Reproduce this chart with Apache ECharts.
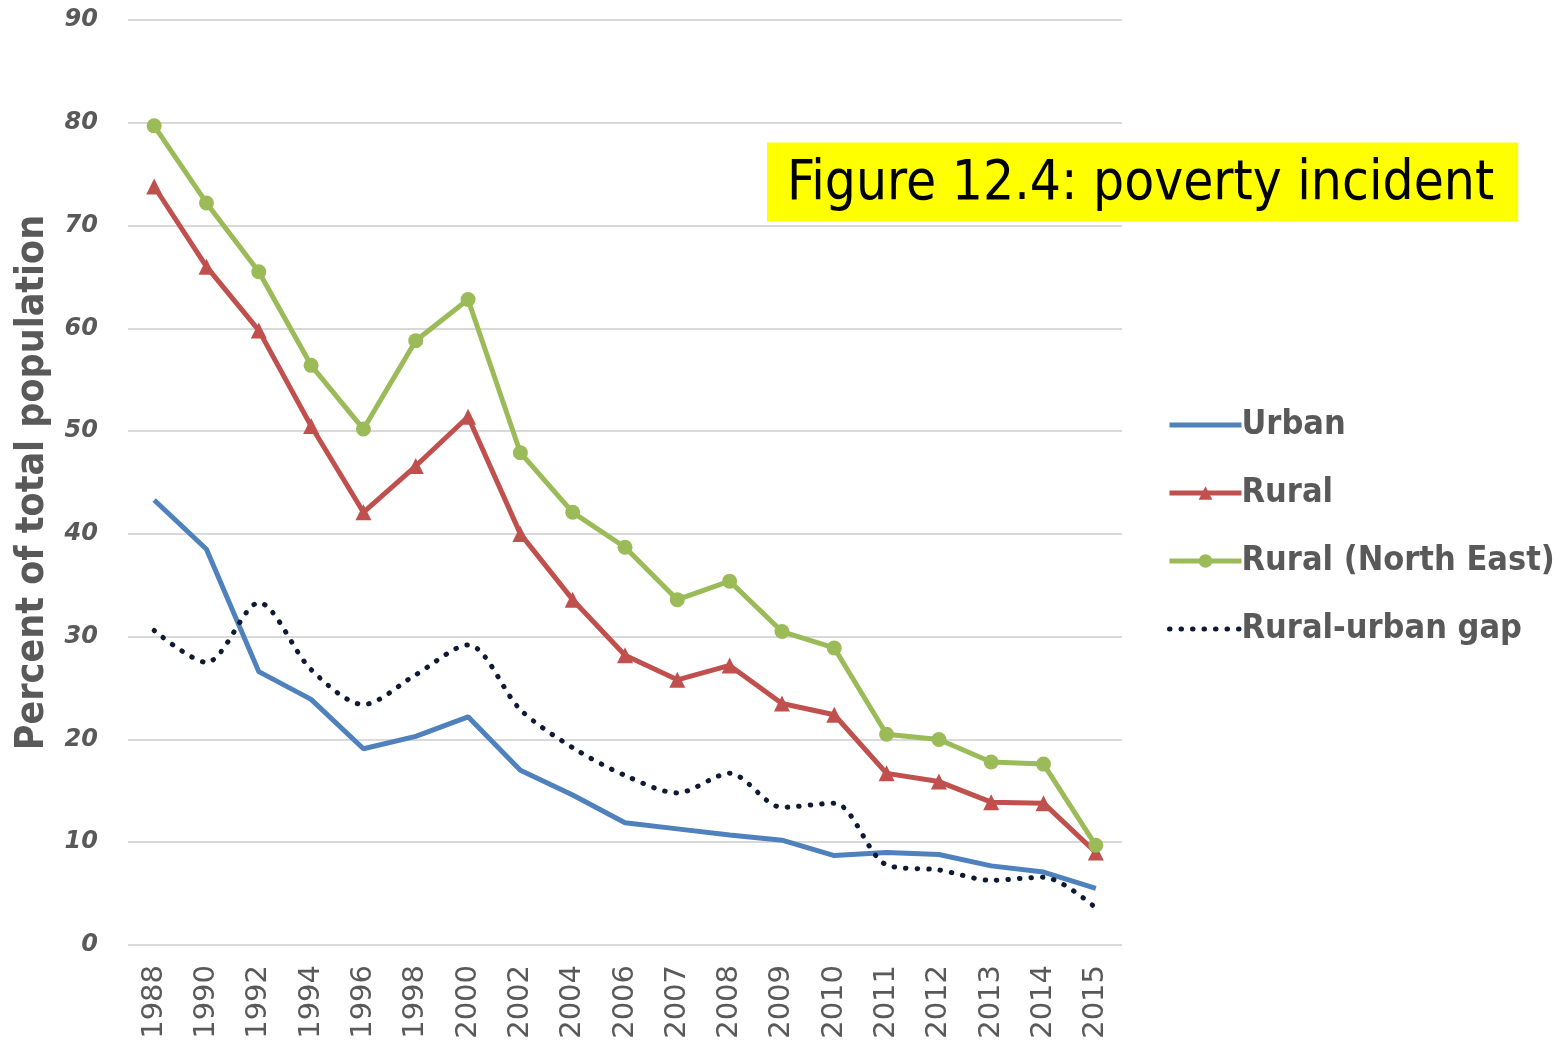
<!DOCTYPE html>
<html>
<head>
<meta charset="utf-8">
<script src="https://cdn.jsdelivr.net/npm/echarts@6/dist/echarts.min.js"></script>
<style>
  html, body { margin: 0; padding: 0; background: #fff; }
  #chart { width: 1564px; height: 1045px; }
</style>
</head>
<body>
<div id="chart"></div>
<script>
// years on the x axis
const years = ['1988', '1990', '1992', '1994', '1996', '1998', '2000', '2002', '2004', '2006',
  '2007', '2008', '2009', '2010', '2011', '2012', '2013', '2014', '2015'];

// percent of total population
const urban = [43.3, 38.5, 26.6, 23.9, 19.1, 20.3, 22.2, 17.0, 14.6, 11.9,
  11.3, 10.7, 10.2, 8.7, 9.0, 8.8, 7.7, 7.1, 5.5];
const rural = [73.8, 66.0, 59.8, 50.5, 42.1, 46.6, 51.4, 40.0, 33.6, 28.2,
  25.8, 27.2, 23.5, 22.4, 16.7, 15.9, 13.9, 13.8, 9.0];
const ruralNE = [79.7, 72.2, 65.5, 56.4, 50.2, 58.8, 62.8, 47.9, 42.1, 38.7,
  33.6, 35.4, 30.5, 28.9, 20.5, 20.0, 17.8, 17.6, 9.7];
const gap = [30.6, 27.5, 33.3, 26.8, 23.4, 26.3, 29.2, 22.9, 19.2, 16.5,
  14.8, 16.7, 13.4, 13.8, 7.8, 7.3, 6.3, 6.6, 3.6];

const yTicks = [0, 10, 20, 30, 40, 50, 60, 70, 80, 90];

const grey = '#595959';
const condensed = '"DejaVu Sans Condensed", "DejaVu Sans", sans-serif';

const chart = echarts.init(document.getElementById('chart'));

chart.setOption({
  animation: false,
  backgroundColor: '#fff',
  title: {
    text: 'Figure 12.4: poverty incident',
    left: 767,
    top: 143,
    backgroundColor: '#ffff00',
    padding: [15, 24, 9, 20],
    textStyle: {
      fontFamily: condensed,
      fontWeight: 'normal',
      fontSize: 54.5,
      lineHeight: 54,
      color: '#000'
    }
  },
  legend: {
    orient: 'vertical',
    left: 1162,
    top: 400,
    itemWidth: 72,
    itemHeight: 17,
    itemGap: 28,
    lineStyle: { width: 5 },
    textStyle: {
      fontFamily: condensed,
      fontWeight: 'bold',
      fontSize: 34,
      lineHeight: 40,
      color: grey,
      padding: [0, 0, 0, -5]
    },
    data: [
      { name: 'Urban', itemStyle: { opacity: 0 } },
      { name: 'Rural' },
      { name: 'Rural (North East)' },
      { name: 'Rural-urban gap', itemStyle: { opacity: 0 } }
    ]
  },
  grid: {
    left: 128,
    right: 442,
    top: 20,
    bottom: 100
  },
  xAxis: {
    type: 'category',
    data: years,
    boundaryGap: true,
    axisLine: { show: false },
    axisTick: { show: false },
    axisLabel: {
      rotate: 90,
      margin: 20,
      fontFamily: 'DejaVu Sans',
      fontSize: 29,
      color: grey
    }
  },
  yAxis: {
    type: 'value',
    min: yTicks[0],
    max: yTicks[yTicks.length - 1],
    interval: 10,
    name: 'Percent of total population',
    nameLocation: 'middle',
    nameGap: 76,
    nameTextStyle: {
      fontFamily: condensed,
      fontWeight: 'bold',
      fontSize: 39,
      color: grey
    },
    axisLine: { show: false },
    axisTick: { show: false },
    splitLine: { lineStyle: { color: '#d9d9d9', width: 2 } },
    axisLabel: {
      margin: 30,
      fontFamily: 'DejaVu Sans',
      fontWeight: 'bold',
      fontStyle: 'italic',
      fontSize: 24,
      color: grey
    }
  },
  series: [
    {
      name: 'Urban',
      type: 'line',
      data: urban,
      symbol: 'none',
      lineStyle: { color: '#4f81bd', width: 5 },
      itemStyle: { color: '#4f81bd' }
    },
    {
      name: 'Rural',
      type: 'line',
      data: rural,
      symbol: 'triangle',
      symbolSize: 16,
      lineStyle: { color: '#c0504d', width: 5 },
      itemStyle: { color: '#c0504d' }
    },
    {
      name: 'Rural (North East)',
      type: 'line',
      data: ruralNE,
      symbol: 'circle',
      symbolSize: 15,
      lineStyle: { color: '#9bbb59', width: 5 },
      itemStyle: { color: '#9bbb59' }
    },
    {
      name: 'Rural-urban gap',
      type: 'line',
      data: gap,
      symbol: 'none',
      smooth: 0.3,
      lineStyle: { color: '#0e1a33', width: 5, type: [0.5, 11], cap: 'round' },
      itemStyle: { color: '#0e1a33' }
    }
  ]
});
</script>
</body>
</html>
